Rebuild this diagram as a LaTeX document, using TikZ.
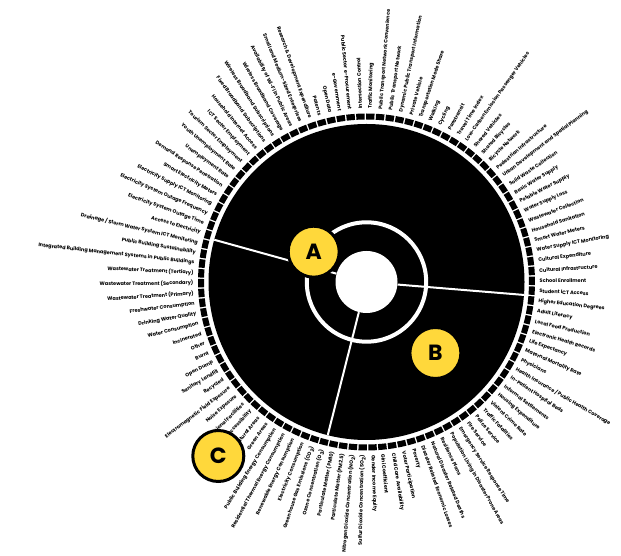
\documentclass[tikz,border=0pt]{standalone}
\usepackage{fontspec}
\setmainfont{Poppins}
\definecolor{ylw}{HTML}{FFD83B}
\begin{document}
\begin{tikzpicture}[x=1pt,y=1pt,
  lbl/.style={font=\bfseries\fontsize{5}{6}\selectfont, inner sep=0pt, text=black},
  badge/.style={circle, fill=ylw, draw=black, line width=3pt, minimum size=51pt, inner sep=0pt, font=\bfseries\fontsize{22}{22}\selectfont},
  divider/.style={draw=white, line width=2pt},
  tickseg/.style={fill=black}]
\useasboundingbox (0,0) rectangle (621,556);
\fill[white] (0,0) rectangle (621,556);
\coordinate (O) at (366.5,274);
\begin{scope}[shift={(O)}]
  \fill[black] (0,0) circle[radius=158];
  \draw[white, line width=4pt] (0,0) circle[radius=59.7];
  \node[circle, fill=white, minimum size=62pt, inner sep=0pt] (hub) at (0,0) {};
  \coordinate (eA) at (164.5:158);
  \coordinate (eB) at (-4.7:158);
  \coordinate (eC) at (-104.2:158);
  \draw[divider] (hub) -- (eA);
  \draw[divider] (hub) -- (eB);
  \draw[divider] (hub) -- (eC);
  \foreach \t [count=\i] in {
    School Enrollment, Cultural Infrastructure, Cultural Expenditure,
    Water Supply ICT Monitoring, Smart Water Meters, Household Sanitation,
    Wastewater Collection, Water Supply Loss, Potable Water Supply,
    Basic Water Supply, Solid Waste Collection, Urban Development and Spatial Planning,
    Pedestrian Infrastructure, Bicycle Network, Shared Bicycles, Shared Vehicles,
    Low-Carbon Emission Passenger Vehicles, Travel Time Index, Paratransit,
    Cycling, Walking, Transportation Mode Share, Private Vehicle,
    Dynamic Public Transport Information, Public Transport Network,
    Public Transport Network Convenience, Traffic Monitoring, Intersection Control,
    Public Sector e-Procurement, e-Government, Open Data, Patents,
    Research \& Development Expenditure, Small and Medium-Sized Enterprises,
    Availability of Wi-Fi in Public Areas, Wireless Broadband Coverage,
    Wireless Broadband Subscriptions, Fixed Broadband Subscriptions,
    Household Internet Access, ICT Sector Employment, Tourism Sector Employment,
    Youth Unemployment Rate, Unemployment Rate, Demand Response Penetration,
    Smart Electricity Meters, Electricity Supply ICT Monitoring,
    Electricity System Outage Frequency, Electricity System Outage Time,
    Access to Electricity, Drainage / Storm Water System ICT Monitoring,
    Public Building Sustainability, Integrated Building Management Systems in Public Buildings,
    Wastewater Treatment (Tertiary), Wastewater Treatment (Secondary),
    Wastewater Treatment (Primary), Freshwater Consumption, Drinking Water Quality,
    Water Consumption, Incinerated, Other, Burnt, Open Dump, Sanitary Landfill,
    Recycled, Electromagnetic Field Exposure, Noise Exposure, Recreational Facilities,
    Green Area Accessibility, Protected Natural Areas, Green Areas,
    Public Building Energy Consumption, Residential Thermal Energy Consumption,
    Renewable Energy Consumption, Electricity Consumption,
    Greenhouse Gas Emissions (CO\textsubscript{2}), Ozone Concentration (O\textsubscript{3}),
    Particulate Matter (PM10), Particulate Matter (PM2.5),
    Nitrogen Dioxide Concentration (NO\textsubscript{2}), Sulfur Dioxide Concentration (SO\textsubscript{2}),
    Gender Income Equity, Gini Coefficient, Child Care Availability, Voter Participation,
    Poverty, Disaster Related Economic Losses, Natural Disaster Related Deaths,
    Resilience Plans, Population Living in Disaster Prone Areas,
    Emergency Service Response Time, Fire Service, Police Service, Traffic Fatalities,
    Violent Crime Rate, Housing Expenditure, Informal Settlements,
    In-Patient Hospital Beds, Health Insurance / Public Health Coverage, Physicians,
    Maternal Mortality Rate, Life Expectancy, Electronic Health Records,
    Local Food Production, Adult Literacy, Higher Education Degrees, Student ICT Access}{
    \pgfmathsetmacro\ang{(\i-1)*3.396226+0.4}
    \pgfmathsetmacro\tka{\ang-1.45}
    \pgfmathsetmacro\tkb{\ang+1.45}
    \pgfmathsetmacro\rot{\ang-180}
    \pgfmathtruncatemacro\flip{and(\i>28,\i<81)}
    \fill[tickseg] (\tka:162.5) arc[start angle=\tka, end angle=\tkb, radius=162.5]
      -- (\tkb:168.5) arc[start angle=\tkb, end angle=\tka, radius=168.5] -- cycle;
    \ifnum\flip=1
      \node[lbl, anchor=east, rotate=\rot] (l\i) at (\ang:173) {\t};
    \else
      \node[lbl, anchor=west, rotate=\ang] (l\i) at (\ang:173) {\t};
    \fi
  }
\end{scope}
\node[badge] (A) at (313.7,304.3) {A};
\node[badge] (B) at (435.4,203) {B};
\node[badge] (C) at (218.3,100) {C};
\end{tikzpicture}
\end{document}
